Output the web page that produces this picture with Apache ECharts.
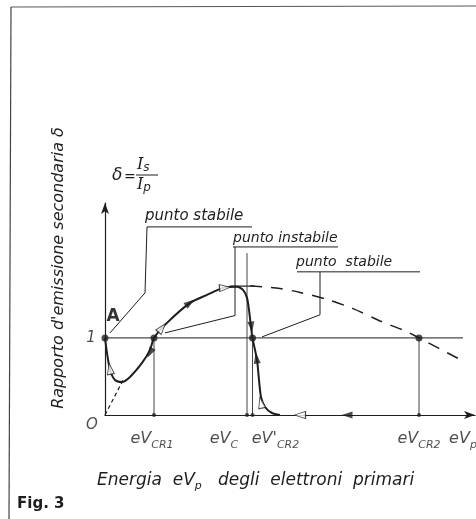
<!DOCTYPE html>
<html><head><meta charset="utf-8">
<script src="https://cdn.jsdelivr.net/npm/echarts@6/dist/echarts.min.js"></script>
<style>html,body{margin:0;padding:0;background:#fff}#c{width:476px;height:519px}</style>
</head><body><div id="c"></div>
<script>
// ---- data (energy in arbitrary units, delta = Is/Ip) ----
const curveX = [0, 0.2, 0.5, 1.0, 1.7, 2.5, 3.7, 4.5, 4.9, 6.2, 8.5, 10.2, 11.8, 13.2, 13.8, 14.2, 14.4, 14.6, 14.75, 15.2, 15.4, 15.6, 16.0, 16.7, 17.5];
const curveY = [1.0, 0.805, 0.584, 0.455, 0.429, 0.494, 0.675, 0.844, 1.0, 1.195, 1.455, 1.558, 1.649, 1.662, 1.623, 1.519, 1.364, 1.143, 1.0, 0.714, 0.455, 0.234, 0.104, 0.026, 0];
const dashX = [14.5, 17.5, 19.5, 22.2, 24.8, 27.5, 30.2, 31.4, 35.8];
const dashY = [1.675, 1.64, 1.59, 1.50, 1.38, 1.22, 1.08, 1.0, 0.70];
const originDashX = [0, 1.8];
const originDashY = [0, 0.45];
const peakTangentX = [12.5, 15.0];
const peakTangentY = [1.672, 1.672];
const unityX = [0, 35.8];
const critX = [4.9, 14.2, 14.75, 31.4];
const critTopY = [1, 2.1, 1, 1];
const pointX = [0, 4.9, 14.75, 31.4];
const pointY = [1, 1, 1, 1];
const arrowX = [0.5, 4.5, 5.7, 8.5, 12.0, 14.65, 15.15, 15.6, 19.5, 24.2];
const arrowY = [0.60, 0.805, 1.13, 1.455, 1.652, 1.14, 0.74, 0.16, 0, 0];
const arrowRot = [10, 152, -39, -55, -86, 187, 8, 12, 90, 90];
const arrowOpen = [true, false, true, false, true, false, false, true, true, false];
const xTickValues = [4.9, 14.2, 14.75, 31.4, 35.8];
const xTickMain = ['eV', 'eV', "eV'", 'eV', 'eV'];
const xTickSub = ['CR1', 'C', 'CR2', 'CR2', 'p'];
const yTickValues = [0, 1];
const yTickLabels = ['O', '1'];
const leaderTexts = ['punto stabile', 'punto instabile', 'punto  stabile'];
const leaderUnderlines = [
  [[4.2, 2.44], [14.7, 2.44]],
  [[12.8, 2.18], [23.3, 2.18]],
  [[19.2, 1.857], [31.5, 1.857]]
];
const leaderArrows = [
  [[4.2, 2.44], [4.0, 1.584], [0.5, 1.065]],
  [[13.0, 2.18], [13.0, 1.29], [6.0, 1.065]],
  [[21.5, 1.857], [21.5, 1.30], [15.7, 1.013]]
];

// ---- styles ----
const INK = '#1e1e1e';
const FONT = 'DejaVu Sans';
const pairs = (xs, ys) => xs.map((x, i) => [x, ys[i]]);

const chart = echarts.init(document.getElementById('c'), null, {renderer: 'canvas'});

const lineSeries = (data, opts) => Object.assign({
  type: 'line', data: data, showSymbol: false, silent: true, animation: false,
  lineStyle: {color: INK, width: 1}, z: 2
}, opts);

const series = [];
series.push(lineSeries(pairs(curveX, curveY), {smooth: 0.25, lineStyle: {color: INK, width: 2}, z: 4}));
series.push(lineSeries(pairs(dashX, dashY), {smooth: 0.3, lineStyle: {color: INK, width: 1.5, type: [12, 9]}}));
series.push(lineSeries(pairs(originDashX, originDashY), {lineStyle: {color: INK, width: 1.2, type: [4, 3]}}));
series.push(lineSeries(pairs(peakTangentX, peakTangentY), {lineStyle: {color: INK, width: 1.3}}));
series.push(lineSeries([[unityX[0], 1], [unityX[1], 1]], {lineStyle: {color: INK, width: 1}}));
critX.forEach((x, i) => series.push(lineSeries([[x, 0], [x, critTopY[i]]], {lineStyle: {color: '#444', width: 1}})));

series.push({
  type: 'lines', coordinateSystem: 'cartesian2d', polyline: true, silent: true, animation: false,
  symbol: ['none', 'none'],
  lineStyle: {color: INK, width: 1, opacity: 1},
  data: leaderUnderlines.map(c => ({coords: c}))
});
series.push({
  type: 'lines', coordinateSystem: 'cartesian2d', polyline: true, silent: true, animation: false,
  symbol: ['none', 'arrow'], symbolSize: [5, 9],
  lineStyle: {color: INK, width: 1, opacity: 1},
  data: leaderArrows.map(c => ({coords: c}))
});

// points on the unity line
series.push({
  type: 'scatter', silent: true, animation: false, symbol: 'circle', symbolSize: 7, z: 6,
  itemStyle: {color: INK},
  data: pairs(pointX, pointY).map((p, i) => i === 0 ? {
    value: p,
    label: {show: true, formatter: 'A', position: 'top', offset: [8, -4], fontFamily: FONT, fontSize: 17, fontWeight: 'bold', color: '#000'}
  } : p)
});
// small dots on the energy axis
series.push({
  type: 'scatter', silent: true, animation: false, symbol: 'circle', symbolSize: 4, z: 6,
  itemStyle: {color: INK},
  data: critX.map(x => [x, 0])
});
// direction arrows along the curve
series.push({
  type: 'scatter', silent: true, animation: false, symbol: 'triangle', symbolSize: [7, 11], z: 7,
  data: arrowX.map((x, i) => ({
    value: [x, arrowY[i]], symbolRotate: arrowRot[i],
    itemStyle: arrowOpen[i] ? {color: '#fff', borderColor: INK, borderWidth: 1} : {color: INK}
  }))
});
// energy labels
const xOff = [-2, -23, 23, 0, 0];
series.push({
  type: 'scatter', silent: true, animation: false, symbolSize: 0, z: 8,
  data: xTickValues.map((x, i) => ({
    value: [x, 0],
    label: {
      show: true, position: 'inside', offset: [xOff[i], 24],
      formatter: '{m|' + xTickMain[i] + '}{s|' + xTickSub[i] + '}',
      rich: {
        m: {fontFamily: FONT, fontStyle: 'italic', fontSize: 16, color: INK, lineHeight: 24, verticalAlign: 'middle'},
        s: {fontFamily: FONT, fontStyle: 'italic', fontSize: 11, color: INK, lineHeight: 11, verticalAlign: 'bottom'}
      }
    }
  }))
});
// delta labels
const yOff = [[-13, 10], [-14, 0]];
series.push({
  type: 'scatter', silent: true, animation: false, symbolSize: 0, z: 8,
  data: yTickValues.map((v, i) => ({
    value: [0, v],
    label: {show: true, position: 'inside', offset: yOff[i], formatter: yTickLabels[i],
      fontFamily: FONT, fontStyle: 'italic', fontSize: 15, color: INK}
  }))
});

const txt = (x, y, text, extra) => ({type: 'text', x: x, y: y, silent: true,
  style: Object.assign({text: text, fill: INK, font: 'italic 15px "' + FONT + '"'}, extra)});
const richFrac = {m: {fontFamily: 'DejaVu Serif', fontStyle: 'italic', fontSize: 16, fill: INK, lineHeight: 18, verticalAlign: 'middle'},
                  s: {fontFamily: FONT, fontStyle: 'italic', fontSize: 12, fill: INK, lineHeight: 10, verticalAlign: 'bottom'}};

const option = {
  backgroundColor: '#ffffff',
  animation: false,
  grid: {left: 105, right: 1, top: 203, bottom: 104},
  xAxis: {
    type: 'value', min: 0, max: 37,
    axisLine: {show: true, onZero: false, symbol: ['none', 'arrow'], symbolSize: [6, 11], lineStyle: {color: INK, width: 1.2}},
    axisTick: {show: false}, axisLabel: {show: false}, splitLine: {show: false}
  },
  yAxis: {
    type: 'value', min: 0, max: 2.75,
    axisLine: {show: true, onZero: false, symbol: ['none', 'arrow'], symbolSize: [6, 11], lineStyle: {color: INK, width: 1.2}},
    axisTick: {show: false}, axisLabel: {show: false}, splitLine: {show: false}
  },
  series: series,
  graphic: [
    // frame of the scanned page
    {type: 'line', silent: true, shape: {x1: 11, y1: 7, x2: 9, y2: 519}, style: {stroke: '#444', lineWidth: 1.2}},
    {type: 'line', silent: true, shape: {x1: 11, y1: 7, x2: 476, y2: 6}, style: {stroke: '#555', lineWidth: 1}},
    // y axis title
    {type: 'text', x: 59, y: 268, rotation: Math.PI / 2, silent: true,
      style: {text: "Rapporto d'emissione secondaria δ", fill: INK, font: 'italic 16px "' + FONT + '"', align: 'center', verticalAlign: 'middle'}},
    // formula delta = Is / Ip
    txt(112, 176, 'δ', {font: 'italic 17px "' + FONT + '"', verticalAlign: 'middle'}),
    txt(124, 177, '=', {font: '14px "' + FONT + '"', verticalAlign: 'middle'}),
    {type: 'text', x: 137, y: 165, silent: true, style: {text: '{m|I}{s|s}', verticalAlign: 'middle', rich: richFrac}},
    {type: 'line', silent: true, shape: {x1: 136, y1: 175, x2: 158, y2: 175}, style: {stroke: INK, lineWidth: 1}},
    {type: 'text', x: 137, y: 185, silent: true, style: {text: '{m|I}{s|p}', verticalAlign: 'middle', rich: richFrac}},
    // leader captions
    txt(145, 216, leaderTexts[0], {verticalAlign: 'middle'}),
    txt(233, 238, leaderTexts[1], {font: 'italic 14px "' + FONT + '"', verticalAlign: 'middle'}),
    txt(296, 262, leaderTexts[2], {font: 'italic 14px "' + FONT + '"', verticalAlign: 'middle'}),
    // x axis title
    {type: 'text', x: 97, y: 481, silent: true, style: {
      text: '{m|Energia  eV}{s|p}{m|   degli  elettroni  primari}', verticalAlign: 'middle',
      rich: {m: {fontFamily: FONT, fontStyle: 'italic', fontSize: 17, fill: INK, lineHeight: 22, verticalAlign: 'middle'},
             s: {fontFamily: FONT, fontStyle: 'italic', fontSize: 11, fill: INK, lineHeight: 11, verticalAlign: 'bottom'}}}},
    // figure caption
    txt(17, 504, 'Fig. 3', {font: 'bold 15px "' + FONT + '"', verticalAlign: 'middle'})
  ]
};
chart.setOption(option);
</script>
</body></html>
